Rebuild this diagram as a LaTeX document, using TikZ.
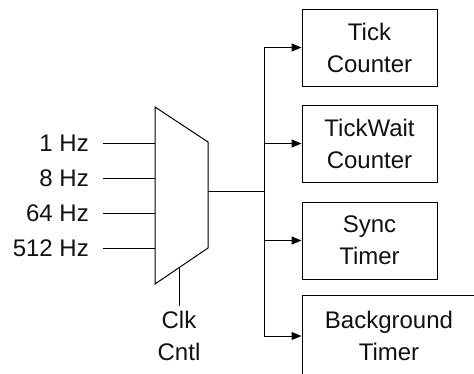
\documentclass[tikz,border=0pt]{standalone}
\usepackage{fontspec}
\setmainfont{Liberation Sans}
\usetikzlibrary{
  positioning,
  arrows.meta,
}
\definecolor{lineCol}{HTML}{000000}
\definecolor{textCol}{HTML}{111111}
\tikzset{
  unitbox/.style={
    rectangle, draw=lineCol, fill=white, line width=1pt,
    minimum width=135pt, minimum height=77pt, align=center,
    font=\fontsize{24}{32}\selectfont, text=textCol, inner sep=0pt,
  },
  inlabel/.style={anchor=east, font=\fontsize{24}{32}\selectfont, text=textCol, inner sep=0pt},
  wire/.style={lineCol, line width=1pt},
  arrow/.style={wire, -{Triangle[length=10pt,width=8pt]}},
}
\begin{document}
\begin{tikzpicture}[x=1pt, y=-1pt]

  \clip (0,0) rectangle (474,373);
  \fill[white] (0,0) rectangle (474,373);

  % Timer blocks
  \node[unitbox] (tick) at (369.5,47.5) {Tick\\Counter};
  \node[unitbox] (wait) at (369.5,143.5) {TickWait\\Counter};
  \node[unitbox] (sync) at (369.5,240.5) {Sync\\Timer};
  \node[unitbox, minimum width=174pt, minimum height=82pt] (bg) at (389,336) {Background\\Timer};

  % Clock multiplexer
  \coordinate (muxTL) at (155,107);
  \coordinate (muxTR) at (208,142);
  \coordinate (muxBR) at (208,248);
  \coordinate (muxBL) at (155,284);
  \draw[wire] (muxTL) -- (muxTR) -- (muxBR) -- (muxBL) -- cycle;

  % Clock inputs
  \foreach \f/\y [count=\i] in {1/143, 8/178, 64/213, 512/248} {
    \node[inlabel] (in\i) at (89,\y) {\f\ Hz};
    \coordinate (pin\i) at (155,\y);
    \draw[wire, shorten <=14pt] (in\i.east) -- (pin\i);
  }

  % Select input
  \coordinate (sel) at (179,267.7);
  \node[font=\fontsize{24}{32}\selectfont, text=textCol, align=center, inner sep=0pt] (clk) at (179,336) {Clk\\Cntl};
  \draw[wire, shorten >=5pt] (sel) -- (clk.north);

  % Output bus
  \coordinate (muxOut) at (208,191);
  \coordinate (bus) at (264,191);
  \draw[wire] (muxOut) -- (bus);
  \draw[wire] (bus |- tick.west) -- (bus |- bg.west);
  \draw[arrow] (bus |- tick.west) -- (tick.west);
  \draw[arrow] (bus |- wait.west) -- (wait.west);
  \draw[arrow] (bus |- sync.west) -- (sync.west);
  \draw[arrow] (bus |- bg.west) -- (bg.west);

\end{tikzpicture}
\end{document}
